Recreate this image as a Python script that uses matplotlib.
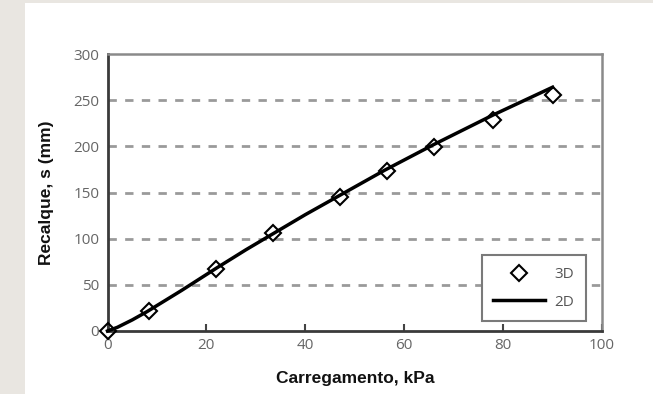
import matplotlib
matplotlib.use("Agg")
import matplotlib.pyplot as plt
from matplotlib.patches import Rectangle

# Data
carga_3d = [0, 8.4, 22, 33.5, 47, 56.5, 66, 78, 90]
recalque_3d = [0, 22, 67, 106, 145, 173, 199, 228, 256]
carga_2d = [0, 2, 5, 8, 15, 22, 28, 34, 40, 47, 56, 66, 78, 90]
recalque_2d = [0, 4, 12, 21, 44, 68, 88, 107, 126, 147, 174, 202, 234, 264]
xticks = [0, 20, 40, 60, 80, 100]
yticks = [0, 50, 100, 150, 200, 250, 300]

fig = plt.figure(figsize=(6.53, 3.94), dpi=100)
fig.patch.set_facecolor("white")
# background strips
fig.patches.append(Rectangle((0, 0), 25/653, 1, transform=fig.transFigure,
                             facecolor="#e9e6e1", edgecolor="none", zorder=0))
fig.patches.append(Rectangle((0, 1-3/394), 1, 3/394, transform=fig.transFigure,
                             facecolor="#e9e6e1", edgecolor="none", zorder=0))

ax = fig.add_axes([107.5/653, 63/394, 494.5/653, 277/394])
ax.set_xlim(0, 100)
ax.set_ylim(0, 300)

for y in yticks[1:-1]:
    ax.axhline(y, color="#9a9a9a", lw=2.0, ls=(0, (3, 3)), zorder=1)

ax.plot(carga_2d, recalque_2d, color="black", lw=2.5, label="2D", zorder=3, clip_on=False)
ax.plot(carga_3d, recalque_3d, ls="none", marker="D", ms=8.5, mfc="none", mec="black",
        mew=1.5, label="3D", zorder=4, clip_on=False)

ax.set_xticks(xticks)
ax.set_yticks(yticks)
tick_font = dict(family="Open Sans", size=11, color="#666666")
ax.set_xticklabels([str(t) for t in xticks], **tick_font)
ax.set_yticklabels([str(t) for t in yticks], **tick_font)
ax.tick_params(axis="x", direction="in", length=5, width=1.5, color="#444444", pad=5)
ax.tick_params(axis="y", direction="in", length=0, pad=6)

for s in ["left", "bottom"]:
    ax.spines[s].set_color("#3a3a3a")
    ax.spines[s].set_linewidth(2.0)
for s in ["top", "right"]:
    ax.spines[s].set_color("#8a8a8a")
    ax.spines[s].set_linewidth(1.8)

ax.set_xlabel("Carregamento, kPa", family="Liberation Sans", weight="bold", size=12.5,
              color="#111111", labelpad=13)
ax.set_ylabel("Recalque, s (mm)", family="Liberation Sans", weight="bold", size=12.5,
              color="#111111", labelpad=14)

handles, labels = ax.get_legend_handles_labels()
order = [1, 0]
leg = ax.legend([handles[i] for i in order], [labels[i] for i in order],
                loc="lower right", bbox_to_anchor=(0.967, 0.035), frameon=True,
                fancybox=False, edgecolor="#7a7a7a", framealpha=1,
                prop=dict(family="Open Sans", size=11), handlelength=3.4,
                borderpad=0.75, labelspacing=0.85, handletextpad=0.6, borderaxespad=0)
leg.get_frame().set_linewidth(1.5)
for t in leg.get_texts():
    t.set_color("#555555")
    t.set_x(0)

fig.savefig("out.png", dpi=100, facecolor=fig.get_facecolor())
